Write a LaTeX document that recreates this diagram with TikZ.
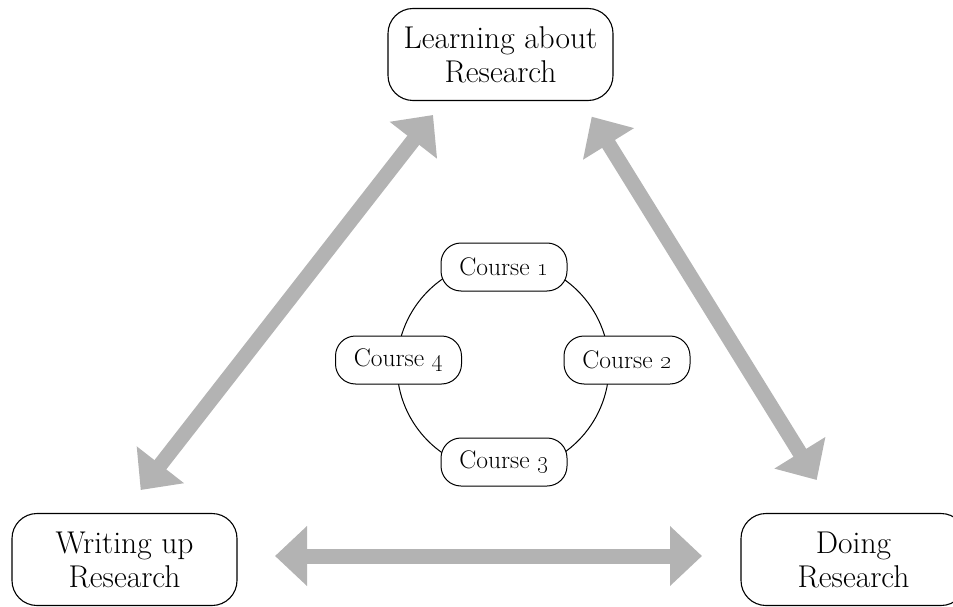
\documentclass[tikz,border=0pt]{standalone}
\usetikzlibrary{arrows.meta}
\definecolor{arrowgray}{RGB}{179,179,179}
\begin{document}
\begin{tikzpicture}[x=1pt,y=-1pt,
  mainbox/.style={draw, line width=1.1pt, rounded corners=25pt, minimum width=225pt, minimum height=92pt, align=center, font=\fontsize{31.5}{34}\selectfont, inner sep=0pt},
  coursebox/.style={draw, fill=white, line width=1pt, rounded corners=20pt, minimum width=126pt, minimum height=48pt, font=\fontsize{25.5}{28}\selectfont, inner sep=0pt},
  bigarrow/.style={line width=15pt, draw=arrowgray, {Triangle[length=32pt,width=58pt]}-{Triangle[length=32pt,width=58pt]}}
]
\useasboundingbox (0,0) rectangle (953,607);
% main nodes
\node[mainbox] (learn) at (500.5,54.5) {Learning about\\Research};
\node[mainbox] (write) at (124.5,559.5) {Writing up\\Research};
\node[mainbox] (doing) at (853.5,559.5) {Doing\\Research};
% course ring
\coordinate (ring) at (503,366);
\draw[line width=1pt] (ring) circle[radius=106];
\node[coursebox] (c1) at (504,267) {Course \oldstylenums{1}};
\node[coursebox] (c2) at (627,360) {Course \oldstylenums{2}};
\node[coursebox] (c3) at (504,462) {Course \oldstylenums{3}};
\node[coursebox] (c4) at (398.5,360) {Course \oldstylenums{4}};
% arrow end points
\coordinate (lw) at (140.7,490);
\coordinate (ll) at (433,115);
\coordinate (rl) at (591.7,116.7);
\coordinate (rd) at (816.7,480);
\coordinate (hw) at (275,556);
\coordinate (hd) at (702,556);
\draw[bigarrow] (lw) -- (ll);
\draw[bigarrow] (rl) -- (rd);
\draw[bigarrow] (hw) -- (hd);
\end{tikzpicture}
\end{document}
